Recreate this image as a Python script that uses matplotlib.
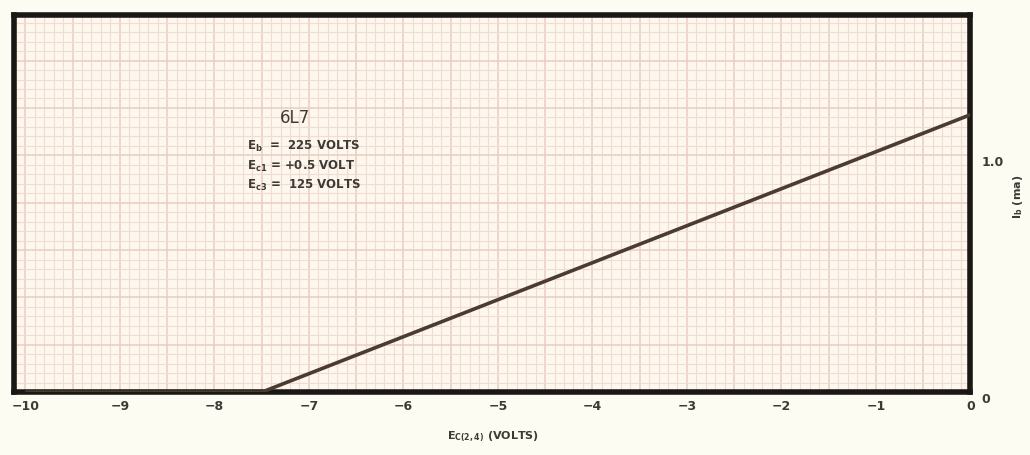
import numpy as np
import matplotlib.pyplot as plt
from matplotlib.ticker import MultipleLocator

# plate current curve
ec24 = [-10.0, -7.5, 0.0]
ib_ma = [0.0, 0.0, 1.21]

xticks = [-10, -9, -8, -7, -6, -5, -4, -3, -2, -1, 0]
yticks = [0.0, 1.0]
ytick_labels = ["0", "1.0"]

paper = "#fdfcf3"
sheet = "#fdf7ee"
grid_c = "#f0dcd2"
ink = "#3d3a36"

fig = plt.figure(figsize=(10.3, 4.55), dpi=100, facecolor=paper)
ax = fig.add_axes([0.0136, 0.138, 0.9285, 0.829])
ax.set_facecolor(sheet)

ax.set_xlim(-10.12, 0)
ax.set_ylim(0, 1.645)

# graph paper: 0.1 V squares, y squares the same size on the page
sq_y = 1 / 24.2
ax.xaxis.set_minor_locator(MultipleLocator(0.1))
ax.xaxis.set_major_locator(MultipleLocator(0.5))
ax.yaxis.set_minor_locator(MultipleLocator(sq_y))
ax.yaxis.set_major_locator(MultipleLocator(sq_y * 5))
ax.grid(which="minor", color=grid_c, lw=0.8)
ax.grid(which="major", color="#e9cdc2", lw=1.1)
ax.tick_params(which="both", length=0, labelbottom=False, labelleft=False)

ax.plot(ec24, ib_ma, color="#4b3b30", lw=2.6, solid_capstyle="butt", zorder=3)

for s in ax.spines.values():
    s.set_linewidth(4)
    s.set_color("#1a1714")

# tick labels written on the sheet like the original
for v in xticks:
    lab = str(v).replace("-", "\u2212")
    ax.text(v, -0.035, lab, ha="center", va="top", fontsize=9, color=ink,
            fontweight="bold", clip_on=False)
for v, lab in zip(yticks, ytick_labels):
    ax.text(0.12, v - (0.03 if v == 0 else 0), lab, ha="left", va="center", fontsize=9,
            color=ink, fontweight="bold", clip_on=False)

ax.text(-5.05, -0.165, r"E$_{\mathregular{C(2,4)}}$ (VOLTS)", ha="center", va="top",
        fontsize=8, color=ink, fontweight="bold", clip_on=False)
ax.text(0.5, 0.85, r"I$_{\mathregular{b}}$ (ma)", rotation=90, ha="center", va="center",
        fontsize=8, color=ink, fontweight="bold", clip_on=False)

ax.text(-7.15, 1.195, "6L7", ha="center", va="center", fontsize=12, color=ink)
notes = [r"E$_{\mathregular{b}}$  =  225 VOLTS",
         r"E$_{\mathregular{c1}}$ = +0.5 VOLT",
         r"E$_{\mathregular{c3}}$ =  125 VOLTS"]
for i, t in enumerate(notes):
    ax.text(-7.65, 1.07 - i * 0.085, t, ha="left", va="center", fontsize=8.5,
            color=ink, fontweight="bold")

fig.savefig("out.png", dpi=100, facecolor=paper)
